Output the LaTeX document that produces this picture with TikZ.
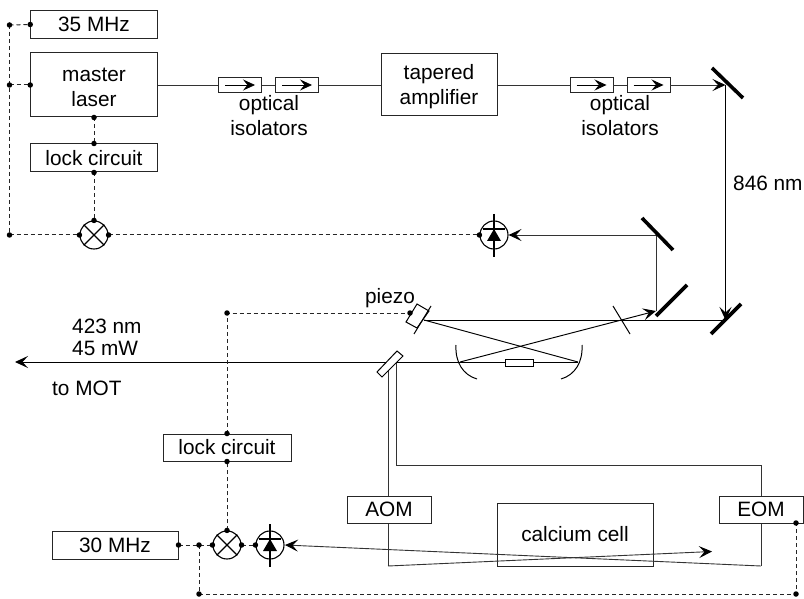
\documentclass[tikz,border=0pt]{standalone}
\usepackage{fontspec}
\setmainfont{Liberation Sans}
\usetikzlibrary{arrows.meta,calc}
\tikzset{
  x=1pt,y=-1pt,
  box/.style={draw=black!85,line width=1pt,fill=white,inner sep=0pt,align=center,font=\fontsize{20.8}{24.5}\selectfont},
  lab/.style={inner sep=0pt,align=center,font=\fontsize{20.8}{25}\selectfont},
  iso/.style={draw=black!85,line width=.9pt,minimum width=43pt,minimum height=15pt,inner sep=0pt,fill=white},
  beam/.style={line width=.9pt,draw=black!80},
  beamb/.style={line width=.95pt,draw=black},
  tip/.style={-{Stealth[length=13pt,width=12pt,inset=5.5pt,color=black]}},
  wire/.style={line width=1pt,dash pattern=on 4pt off 3pt,draw=black!85},
  mirror/.style={line width=3.6pt,draw=black},
  thinm/.style={line width=1pt,draw=black},
  mixer/.style={draw=black,line width=1.1pt,circle,minimum size=28pt,inner sep=0pt,fill=white},
  pdiode/.style={draw=black,line width=1.1pt,circle,minimum size=28pt,inner sep=0pt,fill=white},
  dot/.style={fill=black,circle,minimum size=5.5pt,inner sep=0pt},
}
\newcommand{\cross}[1]{\draw[line width=1.1pt] (#1.north west)--(#1.south east) (#1.north east)--(#1.south west);}
\newcommand{\diode}[1]{%
  \draw[line width=2.6pt] ($(#1.center)+(0,-21)$)--($(#1.center)+(0,22)$);
  \draw[line width=1.8pt] ($(#1.center)+(-11,-6)$)--($(#1.center)+(11,-6)$);
  \fill ($(#1.center)+(0,-6)$)--($(#1.center)+(7,6)$)--($(#1.center)+(-7,6)$)--cycle;}
\newcommand{\isoarrow}[1]{\draw[line width=.8pt,-{Stealth[length=12pt,width=11pt,inset=4.5pt]}] ($(#1.center)+(-15,0)$)--($(#1.center)+(15,0)$);}
\begin{document}
\begin{tikzpicture}
\useasboundingbox (0,0) rectangle (804,599);
% boxes
\node[box,minimum width=126.5pt,minimum height=27.5pt] (mhz35) at (94,24.5) {35 MHz};
\node[box,minimum width=126.5pt,minimum height=64pt] (laser) at (94,85) {\rule{0pt}{18pt}master\\laser};
\node[box,minimum width=126.5pt,minimum height=28pt] (lock1) at (94,158) {lock circuit};
\node[box,minimum width=116pt,minimum height=62pt] (ta) at (439,85) {\rule{0pt}{18pt}tapered\\amplifier};
\node[box,minimum width=128pt,minimum height=27pt] (lock2) at (227,447.5) {lock circuit};
\node[box,minimum width=126pt,minimum height=28pt] (mhz30) at (115,545) {30 MHz};
\node[box,minimum width=156pt,minimum height=63pt] (cell) at (575,534.5) {calcium cell};
\node[box,minimum width=84pt,minimum height=27pt] (aom) at (389,509.5) {AOM};
\node[box,minimum width=84pt,minimum height=27pt] (eom) at (761,509.5) {EOM};
% isolators
\node[iso] (i1) at (240,85) {};
\node[iso] (i2) at (297,85) {};
\node[iso] (i3) at (591.5,85) {};
\node[iso] (i4) at (648.5,85) {};
\foreach \n in {i1,i2,i3,i4}{\isoarrow{\n}}
% mixers and photodiodes
\node[mixer] (mix1) at (94,235) {};
\node[mixer] (mix2) at (227,545) {};
\node[pdiode] (pd1) at (494,235) {};
\node[pdiode] (pd2) at (270,545) {};
\cross{mix1}\cross{mix2}\diode{pd1}\diode{pd2}
% coordinates
\coordinate (m1) at (725.5,85);
\coordinate (m1a) at (712,68); \coordinate (m1b) at (743,98);
\coordinate (m2) at (656,235);
\coordinate (m2a) at (642,218); \coordinate (m2b) at (673,250);
\coordinate (m3) at (656,311);
\coordinate (m3a) at (656,316); \coordinate (m3b) at (687,285);
\coordinate (m4) at (725.5,320);
\coordinate (m4a) at (711,334); \coordinate (m4b) at (741,304);
\coordinate (pz) at (424,320);
\coordinate (cl) at (460,362);
\coordinate (cr) at (578,362);
\coordinate (out) at (15,362);
\coordinate (bs1) at (388,362);
\coordinate (bs2) at (396,362);
\coordinate (bc) at (396,465);
\coordinate (bd) at (761,465);
\coordinate (aomb) at (388,566);
\coordinate (eomb) at (761,566);
\coordinate (pdin) at (285,545);
\coordinate (probe) at (712,551.5);
% beams
\draw[beam] (laser.east |- 0,85)--(i1.west);
\draw[beam] (i1.east)--(i2.west);
\draw[beam] (i2.east)--(ta.west);
\draw[beam] (ta.east)--(i3.west);
\draw[beam] (i3.east)--(i4.west);
\draw[beam,tip] (i4.east)--(m1);
\draw[beamb,tip] (m1)--(m4);
\draw[beam,tip] (m3 |- m2)--(pd1.east);
\draw[beam] (m2)--(m3);
\draw[beamb] (pz)--(m4);
\draw[beamb] (pz)--(cr);
\draw[beamb,tip] (cl)--(m3);
\draw[beamb,tip] (cr)--(out);
\draw[beam] (bs1)--(aom.north -| bs1);
\draw[beam] (bs2)--(bc)--(bd)--(eom.north);
\draw[beam] (aom.south -| bs1)--(aomb);
\draw[beam] (eom.south)--(eomb);
\draw[beam,tip] (eomb)--(pdin);
\draw[beam,tip] (aomb)--(probe);
% optics
\draw[mirror] (m1a)--(m1b);
\draw[mirror] (m2a)--(m2b);
\draw[mirror] (m3a)--(m3b);
\draw[mirror] (m4a)--(m4b);
\draw[thinm] (613,306)--(630,334);
\draw[thinm] (431,306)--(414,334);
\draw[thinm] (417,304)--(429,311)--(417,328)--(406,322)--cycle;
\draw[thinm,fill=white] (377,372)--(397,351)--(403,356)--(382,377)--cycle;
\draw[thinm,fill=white] (505,359) rectangle (533,366);
\draw[thinm] (456,345) .. controls (455,362) and (463,375) .. (477,379);
\draw[thinm] (582,345) .. controls (583,362) and (575,375) .. (561,379);
% electronics
\coordinate (a1) at (9.5,25);
\coordinate (a2) at (9.5,85);
\coordinate (a3) at (9.5,235);
\coordinate (b1) at (199,545);
\coordinate (b2) at (199,594);
\coordinate (b3) at (796,594);
\coordinate (b4) at (796,523);
\coordinate (p1) at (227,313);
\coordinate (p2) at (410,313);
\draw[wire] (a1)--(a3);
\draw[wire] (a1)--(mhz35.west);
\draw[wire] (a2)--(laser.west);
\draw[wire] (a3)--(mix1.west);
\draw[wire] (mix1.east)--(pd1.west);
\draw[wire] (laser.south)--(lock1.north);
\draw[wire] (lock1.south)--(mix1.north);
\draw[wire] (mhz30.east)--(mix2.west);
\draw[wire] (mix2.east)--(pd2.west);
\draw[wire] (b1)--(b2)--(b3)--(b4);
\draw[wire] (mix2.north)--(lock2.south);
\draw[wire] (lock2.north)--(p1)--(p2);
\foreach \c in {a1,a2,a3,mhz35.west,laser.west,laser.south,lock1.north,lock1.south,mix1.north,mix1.west,mix1.east,pd1.west,mhz30.east,b1,mix2.west,mix2.east,mix2.north,pd2.west,b2,b3,b4,lock2.south,lock2.north,p1,p2}{\node[dot] at (\c) {};}
% labels
\node[lab] (t1) at (269,115.5) {optical\\isolators};
\node[lab] (t2) at (620,115.5) {optical\\isolators};
\node[lab,anchor=west] (t3) at (733,183) {846 nm};
\node[lab] (t4) at (390,298) {piezo};
\node[lab,anchor=west] (t5) at (72,326) {423 nm};
\node[lab,anchor=west] (t6) at (72,348) {45 mW};
\node[lab,anchor=west] (t7) at (52,388) {to MOT};
\end{tikzpicture}
\end{document}
